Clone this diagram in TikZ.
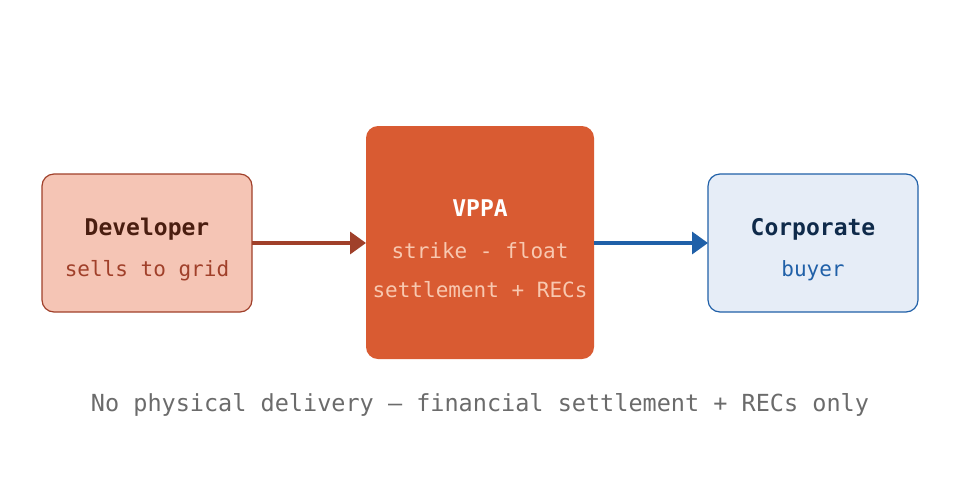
\documentclass[tikz,border=0pt]{standalone}
\usepackage{fontspec}
\setmainfont{DejaVu Sans Mono}
\usetikzlibrary{arrows.meta}
\definecolor{devfill}{HTML}{F5C5B5}\definecolor{devline}{HTML}{A0402A}\definecolor{devtitle}{HTML}{4A1E10}
\definecolor{vfill}{HTML}{D95B32}\definecolor{vsub}{HTML}{F8C8B0}
\definecolor{cfill}{HTML}{E6EDF7}\definecolor{cline}{HTML}{2060A8}\definecolor{ctitle}{HTML}{0F2A4A}
\definecolor{foot}{HTML}{6B6B6B}
\begin{document}
\begin{tikzpicture}[x=1pt,y=-1pt,
 box/.style={rounded corners=12pt,line width=1.2pt},
 arr/.style={line width=3.5pt,-{Triangle[length=16pt,width=22pt]}},
 t/.style={font=\fontsize{23}{26}\selectfont\bfseries},
 s/.style={font=\fontsize{21}{24}\selectfont}]
\useasboundingbox (0,0) rectangle (960,480);
\path[box,fill=devfill,draw=devline] (42,174) rectangle (252,312);
\node[box,draw=none,minimum width=210pt,minimum height=138pt] (dev) at (147,243) {};
\node[t,text=devtitle] at (147,229) {Developer};
\node[s,text=devline] at (147,271) {sells to grid};
\path[box,fill=vfill] (366,126) rectangle (594,359);
\node[minimum width=228pt,minimum height=233pt] (v) at (480,242.5) {};
\node[t,text=white] at (480,208) {VPPA};
\node[s,text=vsub] at (480,251) {strike - float};
\node[s,text=vsub] at (480,290) {settlement + RECs};
\path[box,fill=cfill,draw=cline] (708,174) rectangle (918,312);
\node[minimum width=210pt,minimum height=138pt] (c) at (813,243) {};
\node[t,text=ctitle] at (813,229) {Corporate};
\node[s,text=cline] at (813,271) {buyer};
\draw[arr,draw=devline,fill=devline] (252,243) -- (366,243);
\draw[arr,draw=cline,fill=cline] (594,243) -- (708,243);
\node[font=\fontsize{23.5}{26}\selectfont,text=foot] (f) at (480,405) {No physical delivery — financial settlement + RECs only};
\end{tikzpicture}
\end{document}
